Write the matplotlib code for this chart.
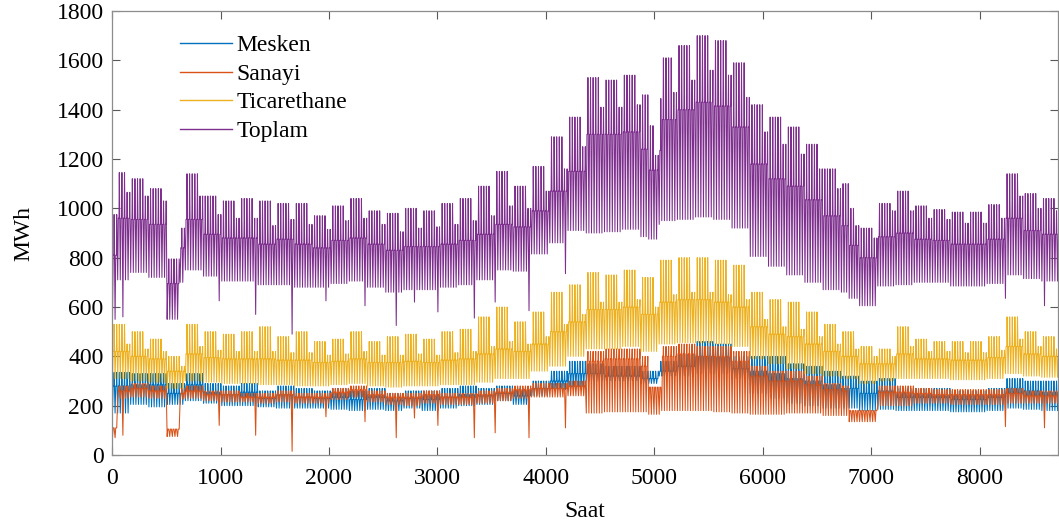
import numpy as np
import matplotlib.pyplot as plt

plt.rcParams['font.family'] = ['Liberation Serif', 'DejaVu Serif']

# Weekly load envelopes in MWh (53 weeks of the year)
# tepe = daily peak, orta = daytime level, dip = night minimum
mesken_tepe = [335, 330, 330, 290, 330, 290, 280, 290, 260, 280,
               270, 260, 270, 260, 270, 250, 260, 260, 270, 280,
               270, 280, 270, 300, 340, 380, 370, 360, 360, 340,
               380, 410, 460, 450, 400, 400, 400, 370, 360, 340,
               320, 300, 310, 270, 270, 270, 260, 260, 270, 310,
               300, 300, 270]
mesken_orta = [280, 285, 285, 250, 285, 255, 245, 255, 230, 245,
               235, 230, 235, 225, 235, 220, 230, 225, 235, 245,
               240, 250, 240, 270, 300, 330, 330, 320, 320, 310,
               340, 360, 400, 395, 350, 340, 330, 310, 300, 285,
               270, 250, 260, 235, 235, 235, 225, 225, 235, 270,
               260, 255, 235]
mesken_dip = [170, 205, 195, 205, 220, 210, 200, 200, 195, 190,
              190, 190, 185, 180, 185, 180, 190, 180, 190, 200,
              205, 220, 205, 240, 265, 270, 300, 300, 300, 290,
              320, 320, 330, 330, 310, 250, 230, 210, 200, 190,
              190, 180, 185, 180, 180, 180, 175, 175, 180, 190,
              185, 180, 180]

sanayi_tepe = [280, 290, 280, 270, 280, 260, 260, 250, 250, 260,
               250, 250, 270, 280, 260, 250, 250, 260, 250, 250,
               260, 270, 280, 290, 290, 300, 420, 430, 430, 400,
               440, 450, 440, 440, 420, 360, 340, 340, 320, 290,
               280, 270, 280, 280, 270, 265, 265, 265, 265, 270,
               260, 260, 260]
sanayi_orta = [260, 270, 260, 250, 260, 245, 245, 235, 235, 245,
               235, 235, 255, 265, 245, 235, 235, 245, 235, 235,
               245, 255, 265, 270, 270, 280, 380, 390, 390, 360,
               400, 410, 400, 400, 380, 320, 300, 300, 285, 265,
               260, 245, 255, 255, 250, 245, 245, 245, 245, 250,
               240, 240, 240]
sanayi_dip = [230, 235, 230, 225, 230, 220, 215, 215, 210, 215,
              210, 210, 225, 235, 215, 205, 200, 210, 205, 205,
              210, 220, 230, 235, 235, 240, 170, 175, 175, 175,
              180, 180, 180, 175, 170, 165, 165, 170, 170, 160,
              160, 160, 200, 200, 210, 210, 205, 205, 205, 210,
              210, 210, 210]

ticaret_tepe = [530, 500, 470, 400, 530, 500, 490, 500, 520, 480,
                500, 460, 470, 500, 460, 480, 490, 470, 500, 510,
                560, 600, 540, 580, 660, 690, 740, 730, 750, 720,
                790, 800, 800, 790, 770, 660, 630, 620, 580, 530,
                500, 440, 430, 520, 470, 460, 460, 460, 480, 560,
                500, 480, 470]
ticaret_hafta_sonu = [450, 430, 420, 360, 440, 425, 420, 420, 420, 415,
                      415, 405, 410, 420, 405, 405, 410, 405, 415, 420,
                      440, 460, 450, 480, 530, 570, 620, 620, 630, 600,
                      650, 660, 660, 650, 630, 550, 520, 510, 480, 450,
                      430, 400, 400, 440, 420, 420, 415, 415, 425, 470,
                      440, 430, 420]
ticaret_orta = [420, 400, 390, 340, 410, 395, 390, 390, 390, 385,
                385, 375, 380, 390, 375, 375, 380, 375, 385, 390,
                410, 430, 420, 450, 500, 540, 590, 590, 600, 570,
                620, 630, 630, 620, 600, 520, 490, 480, 450, 420,
                400, 370, 370, 410, 390, 390, 385, 385, 395, 440,
                410, 400, 390]
ticaret_dip = [310, 300, 295, 270, 300, 295, 290, 290, 285, 285,
               280, 280, 285, 290, 280, 275, 280, 280, 285, 285,
               295, 310, 310, 340, 360, 400, 430, 430, 440, 420,
               450, 455, 455, 450, 440, 390, 370, 350, 330, 320,
               310, 290, 300, 310, 310, 310, 305, 305, 310, 330,
               320, 315, 310]

# single-day drops in industrial load (day of year, minimum)
sanayi_ani_gun = [4, 41, 55, 69, 82, 97, 109, 116, 125, 139, 147, 160, 174, 343, 358]
sanayi_ani_deger = [80, 120, 80, 15, 155, 135, 70, 150, 120, 70, 90, 70, 110, 115, 110]

# multi-day low periods in industrial load
tatil_bas = [0, 21, 206, 283]
tatil_son = [1, 25, 210, 293]
tatil_dip = [70, 75, 165, 135]
tatil_tepe = [110, 105, 275, 180]

gun = np.arange(365)
hafta = gun // 7
is_gunu = (gun % 7) < 5


def gunluk(arr):
    return np.array(arr, dtype=float)[hafta]


m_lo, m_mid, m_hi = gunluk(mesken_dip), gunluk(mesken_orta), gunluk(mesken_tepe)
s_lo, s_mid, s_hi = gunluk(sanayi_dip), gunluk(sanayi_orta), gunluk(sanayi_tepe)
t_lo, t_mid = gunluk(ticaret_dip), gunluk(ticaret_orta)
t_hi = np.where(is_gunu, gunluk(ticaret_tepe), gunluk(ticaret_hafta_sonu))

for g, v in zip(sanayi_ani_gun, sanayi_ani_deger):
    s_lo[g] = v
for a, b, lo, hi in zip(tatil_bas, tatil_son, tatil_dip, tatil_tepe):
    s_lo[a:b + 1] = lo
    s_mid[a:b + 1] = hi
    s_hi[a:b + 1] = hi

# four readings per day: night minimum, morning, afternoon, evening peak
saat_ofset = [4, 10, 16, 19]
saat = (gun[:, None] * 24 + np.array(saat_ofset)[None, :]).ravel()


def profil(lo, mid, hi):
    return np.column_stack([lo, mid, mid, hi]).ravel()


mesken = profil(m_lo, m_mid, m_hi)
sanayi = profil(s_lo, s_mid, s_hi)
ticaret = profil(t_lo, t_mid, t_hi)
toplam = mesken + sanayi + ticaret

fig = plt.figure(figsize=(10.59, 5.31), dpi=100)
ax = fig.add_axes([0.1058, 0.1431, 0.8932, 0.8362])

lw = 0.75
ax.plot(saat, mesken, color='#0072BD', lw=lw, label='Mesken')
ax.plot(saat, sanayi, color='#D95319', lw=lw, label='Sanayi')
ax.plot(saat, ticaret, color='#EDB120', lw=lw, label='Ticarethane')
ax.plot(saat, toplam, color='#7E2F8E', lw=lw, label='Toplam')

ax.set_xlim(0, 8720)
ax.set_ylim(0, 1800)
ax.set_xticks(range(0, 9000, 1000))
ax.set_yticks(range(0, 2000, 200))
ax.tick_params(direction='in', length=6, width=0.8, color='0.35',
               top=True, right=True, labelsize=17)
ax.tick_params(axis='x', pad=9)
ax.tick_params(axis='y', pad=6)
for s in ax.spines.values():
    s.set_color('0.55')
    s.set_linewidth(0.9)

ax.set_xlabel('Saat', fontsize=17, labelpad=9)
ax.set_ylabel('MWh', fontsize=17, labelpad=16)

leg = ax.legend(loc='upper left', bbox_to_anchor=(0.0719, 0.9466), frameon=False,
                fontsize=17, handlelength=2.2, handletextpad=0.2,
                labelspacing=0.3, borderpad=0, borderaxespad=0)
for h in leg.get_lines():
    h.set_linewidth(1.0)

fig.savefig('out.png', dpi=100)
